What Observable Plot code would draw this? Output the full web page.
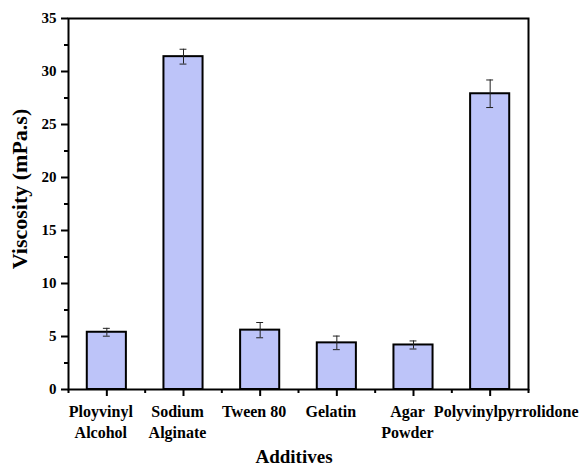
<!DOCTYPE html>
<html>
<head>
<meta charset="utf-8">
<script src="https://cdn.jsdelivr.net/npm/d3@7"></script>
<script src="https://cdn.jsdelivr.net/npm/@observablehq/plot@0.6"></script>
<style>
  html, body { margin: 0; padding: 0; background: #fff; }
  #chart { width: 579px; height: 466px; }
  #chart svg, #chart svg text { font-family: "Liberation Serif", "Times New Roman", Times, "DejaVu Serif", serif !important; font-weight: bold; }
</style>
</head>
<body>
<div id="chart"></div>
<script>
const categories = ["Ployvinyl\nAlcohol", "Sodium\nAlginate", "Tween 80", "Gelatin", "Agar\nPowder", "Polyvinylpyrrolidone"];
const viscosity = [5.4, 31.4, 5.6, 4.4, 4.2, 27.9];
const errors = [0.37, 0.7, 0.72, 0.64, 0.38, 1.3];
const yMajorTicks = [0, 5, 10, 15, 20, 25, 30, 35];
const yMinorTicks = [2.5, 7.5, 12.5, 17.5, 22.5, 27.5, 32.5];
const yTitle = "Viscosity (mPa.s)";
const xTitle = "Additives";

const data = categories.map((c, i) => ({i, cat: c, v: viscosity[i], e: errors[i]}));
const halfBar = 0.255;
const halfCap = 0.045;
const idx = d3.range(categories.length);

const plot = Plot.plot({
  width: 579,
  height: 466,
  marginLeft: 68,
  marginRight: 51,
  marginTop: 18,
  marginBottom: 77,
  style: {fontWeight: "bold", fontSize: "15px", color: "#000", background: "#fff"},
  x: {type: "linear", domain: [-0.5, categories.length - 0.5]},
  y: {domain: [0, 35]},
  marks: [
    Plot.rectY(data, {x1: d => d.i - halfBar, x2: d => d.i + halfBar, y1: 0, y2: "v", fill: "#bdc4f9", stroke: "#000", strokeWidth: 2}),
    Plot.ruleX(data, {x: "i", y1: d => d.v - d.e, y2: d => d.v + d.e, stroke: "#222", strokeWidth: 1}),
    Plot.ruleY(data, {y: d => d.v + d.e, x1: d => d.i - halfCap, x2: d => d.i + halfCap, stroke: "#222", strokeWidth: 1}),
    Plot.ruleY(data, {y: d => d.v - d.e, x1: d => d.i - halfCap, x2: d => d.i + halfCap, stroke: "#222", strokeWidth: 1}),
    Plot.axisY({ticks: yMajorTicks, tickSize: 7, tickPadding: 5, strokeWidth: 2, label: null, fontSize: 15}),
    Plot.axisY({ticks: yMinorTicks, tickSize: 4, tickFormat: () => "", strokeWidth: 2, label: null}),
    Plot.axisX({ticks: idx, tickSize: 7, tickFormat: () => "", strokeWidth: 2, label: null}),
    Plot.axisX({ticks: idx.slice(0, -1), tickSize: 0, tickPadding: 13, dx: -6, tickFormat: i => categories[i], lineHeight: 1.3, label: null, fontSize: 16}),
    Plot.axisX({ticks: idx.slice(-1), tickSize: 0, tickPadding: 13, dx: 16, tickFormat: i => categories[i], lineHeight: 1.3, label: null, fontSize: 16}),
    Plot.axisX({ticks: d3.range(categories.length + 1).map(k => k - 0.5), tickSize: 4, tickFormat: () => "", strokeWidth: 2, label: null}),
    Plot.frame({stroke: "#000", strokeWidth: 2})
  ]
});

const svg = d3.select(plot);
svg.append("text")
  .attr("transform", "translate(27,189) rotate(-90)")
  .attr("text-anchor", "middle")
  .attr("font-size", "22px")
  .attr("fill", "#000")
  .text(yTitle);
svg.append("text")
  .attr("x", 294)
  .attr("y", 463)
  .attr("text-anchor", "middle")
  .attr("font-size", "19px")
  .attr("fill", "#000")
  .text(xTitle);

document.getElementById("chart").appendChild(plot);
</script>
</body>
</html>
